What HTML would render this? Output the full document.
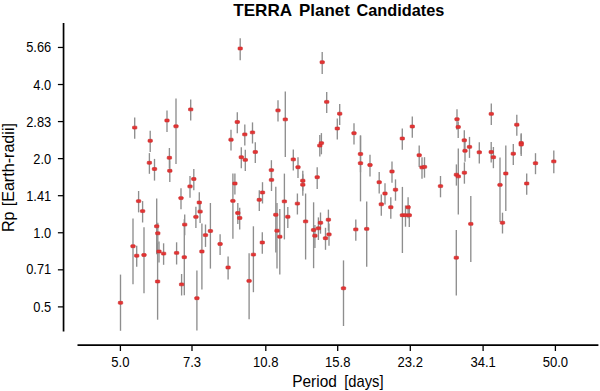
<!DOCTYPE html><html><head><meta charset="utf-8"><style>html,body{margin:0;padding:0;background:#fff;}svg{display:block;}text{font-family:"Liberation Sans", sans-serif;}</style></head><body>
<svg width="600" height="391" viewBox="0 0 600 391">
<rect width="600" height="391" fill="#fff"/>
<text x="233.21" y="15.60" font-size="16.30" font-weight="bold" textLength="58.94" lengthAdjust="spacingAndGlyphs">TERRA</text>
<text x="299.06" y="15.60" font-size="16.30" font-weight="bold" textLength="50.84" lengthAdjust="spacingAndGlyphs">Planet</text>
<text x="356.53" y="15.60" font-size="16.30" font-weight="bold" textLength="87.74" lengthAdjust="spacingAndGlyphs">Candidates</text>
<g stroke="#000" fill="none">
<line x1="63.55" y1="22.9" x2="63.55" y2="331.6" stroke-width="1.7"/>
<line x1="77.5" y1="345.2" x2="598.4" y2="345.2" stroke-width="1.8"/>
<line x1="120.40" y1="345" x2="120.40" y2="351" stroke-width="1.3"/>
<line x1="192.00" y1="345" x2="192.00" y2="351" stroke-width="1.3"/>
<line x1="265.80" y1="345" x2="265.80" y2="351" stroke-width="1.3"/>
<line x1="337.70" y1="345" x2="337.70" y2="351" stroke-width="1.3"/>
<line x1="410.30" y1="345" x2="410.30" y2="351" stroke-width="1.3"/>
<line x1="483.10" y1="345" x2="483.10" y2="351" stroke-width="1.3"/>
<line x1="555.40" y1="345" x2="555.40" y2="351" stroke-width="1.3"/>
<line x1="57.9" y1="47.46" x2="63.5" y2="47.46" stroke-width="1.25"/>
<line x1="57.9" y1="84.52" x2="63.5" y2="84.52" stroke-width="1.25"/>
<line x1="57.9" y1="121.58" x2="63.5" y2="121.58" stroke-width="1.25"/>
<line x1="57.9" y1="158.64" x2="63.5" y2="158.64" stroke-width="1.25"/>
<line x1="57.9" y1="195.70" x2="63.5" y2="195.70" stroke-width="1.25"/>
<line x1="57.9" y1="232.76" x2="63.5" y2="232.76" stroke-width="1.25"/>
<line x1="57.9" y1="269.82" x2="63.5" y2="269.82" stroke-width="1.25"/>
<line x1="57.9" y1="306.88" x2="63.5" y2="306.88" stroke-width="1.25"/>
</g>
<text x="120.40" y="367" font-size="15.2" text-anchor="middle" transform="translate(120.40 0) scale(0.860 1) translate(-120.40 0)">5.0</text>
<text x="192.00" y="367" font-size="15.2" text-anchor="middle" transform="translate(192.00 0) scale(0.860 1) translate(-192.00 0)">7.3</text>
<text x="265.80" y="367" font-size="15.2" text-anchor="middle" transform="translate(265.80 0) scale(0.860 1) translate(-265.80 0)">10.8</text>
<text x="337.70" y="367" font-size="15.2" text-anchor="middle" transform="translate(337.70 0) scale(0.860 1) translate(-337.70 0)">15.8</text>
<text x="410.30" y="367" font-size="15.2" text-anchor="middle" transform="translate(410.30 0) scale(0.860 1) translate(-410.30 0)">23.2</text>
<text x="483.10" y="367" font-size="15.2" text-anchor="middle" transform="translate(483.10 0) scale(0.860 1) translate(-483.10 0)">34.1</text>
<text x="555.40" y="367" font-size="15.2" text-anchor="middle" transform="translate(555.40 0) scale(0.860 1) translate(-555.40 0)">50.0</text>
<text x="51.2" y="52" font-size="14.6" text-anchor="end" transform="translate(51.2 0) scale(0.880 1) translate(-51.2 0)">5.66</text>
<text x="51.2" y="90" font-size="14.6" text-anchor="end" transform="translate(51.2 0) scale(0.880 1) translate(-51.2 0)">4.0</text>
<text x="51.2" y="127" font-size="14.6" text-anchor="end" transform="translate(51.2 0) scale(0.880 1) translate(-51.2 0)">2.83</text>
<text x="51.2" y="164" font-size="14.6" text-anchor="end" transform="translate(51.2 0) scale(0.880 1) translate(-51.2 0)">2.0</text>
<text x="51.2" y="201" font-size="14.6" text-anchor="end" transform="translate(51.2 0) scale(0.880 1) translate(-51.2 0)">1.41</text>
<text x="51.2" y="238" font-size="14.6" text-anchor="end" transform="translate(51.2 0) scale(0.880 1) translate(-51.2 0)">1.0</text>
<text x="51.2" y="274" font-size="14.6" text-anchor="end" transform="translate(51.2 0) scale(0.880 1) translate(-51.2 0)">0.71</text>
<text x="51.2" y="312" font-size="14.6" text-anchor="end" transform="translate(51.2 0) scale(0.880 1) translate(-51.2 0)">0.5</text>
<text x="292.23" y="386.60" font-size="17.00" textLength="44.65" lengthAdjust="spacingAndGlyphs">Period</text>
<text x="344.15" y="386.60" font-size="17.00" textLength="39.40" lengthAdjust="spacingAndGlyphs">[days]</text>
<g transform="translate(14.30 0) rotate(-90)">
<text x="-232.01" y="0" font-size="17.00" textLength="20.49" lengthAdjust="spacingAndGlyphs">Rp</text>
<text x="-206.34" y="0" font-size="17.00" textLength="83.28" lengthAdjust="spacingAndGlyphs">[Earth-radii]</text>
</g>
<g stroke="#8e8e8e" stroke-width="1.35">
<line x1="240.2" y1="38.2" x2="240.2" y2="60.2"/>
<line x1="322.2" y1="51.9" x2="322.2" y2="73.9"/>
<line x1="134.7" y1="117.5" x2="134.7" y2="138.7"/>
<line x1="150.2" y1="130.7" x2="150.2" y2="151.9"/>
<line x1="167.0" y1="110.4" x2="167.0" y2="131.9"/>
<line x1="176.0" y1="98.4" x2="176.0" y2="164.1"/>
<line x1="190.7" y1="99.4" x2="190.7" y2="120.4"/>
<line x1="231.0" y1="129.7" x2="231.0" y2="150.5"/>
<line x1="237.3" y1="112.2" x2="237.3" y2="133.2"/>
<line x1="244.8" y1="124.4" x2="244.8" y2="145.5"/>
<line x1="252.5" y1="122.4" x2="252.5" y2="143.5"/>
<line x1="255.3" y1="142.2" x2="255.3" y2="163.0"/>
<line x1="278.0" y1="100.2" x2="278.0" y2="121.4"/>
<line x1="285.3" y1="91.5" x2="285.3" y2="156.9"/>
<line x1="326.7" y1="91.9" x2="326.7" y2="113.0"/>
<line x1="339.7" y1="103.9" x2="339.7" y2="124.9"/>
<line x1="337.3" y1="118.5" x2="337.3" y2="139.6"/>
<line x1="354.0" y1="123.2" x2="354.0" y2="144.4"/>
<line x1="319.8" y1="135.0" x2="319.8" y2="156.6"/>
<line x1="321.4" y1="133.1" x2="321.4" y2="154.3"/>
<line x1="360.5" y1="135.5" x2="360.5" y2="172.2"/>
<line x1="402.3" y1="128.5" x2="402.3" y2="149.7"/>
<line x1="412.3" y1="116.5" x2="412.3" y2="137.7"/>
<line x1="419.2" y1="145.5" x2="419.2" y2="166.9"/>
<line x1="457.0" y1="109.3" x2="457.0" y2="129.8"/>
<line x1="458.2" y1="121.6" x2="458.2" y2="138.0"/>
<line x1="464.3" y1="130.3" x2="464.3" y2="150.3"/>
<line x1="469.5" y1="136.9" x2="469.5" y2="157.9"/>
<line x1="465.0" y1="140.7" x2="465.0" y2="161.7"/>
<line x1="479.3" y1="142.3" x2="479.3" y2="163.4"/>
<line x1="491.3" y1="103.5" x2="491.3" y2="125.0"/>
<line x1="491.2" y1="142.1" x2="491.2" y2="162.4"/>
<line x1="516.8" y1="114.7" x2="516.8" y2="135.7"/>
<line x1="521.2" y1="133.2" x2="521.2" y2="154.2"/>
<line x1="521.2" y1="134.2" x2="521.2" y2="155.9"/>
<line x1="513.3" y1="143.9" x2="513.3" y2="164.9"/>
<line x1="535.5" y1="153.2" x2="535.5" y2="174.2"/>
<line x1="149.4" y1="153.1" x2="149.4" y2="173.8"/>
<line x1="154.5" y1="158.9" x2="154.5" y2="180.6"/>
<line x1="169.4" y1="148.0" x2="169.4" y2="168.2"/>
<line x1="169.8" y1="160.2" x2="169.8" y2="182.1"/>
<line x1="193.8" y1="169.0" x2="193.8" y2="190.2"/>
<line x1="190.0" y1="176.0" x2="190.0" y2="197.7"/>
<line x1="181.0" y1="188.2" x2="181.0" y2="209.2"/>
<line x1="138.6" y1="191.0" x2="138.6" y2="212.4"/>
<line x1="142.6" y1="201.1" x2="142.6" y2="222.5"/>
<line x1="199.3" y1="192.3" x2="199.3" y2="213.2"/>
<line x1="200.1" y1="201.2" x2="200.1" y2="222.9"/>
<line x1="195.9" y1="206.8" x2="195.9" y2="228.0"/>
<line x1="241.3" y1="147.2" x2="241.3" y2="168.2"/>
<line x1="245.3" y1="149.7" x2="245.3" y2="171.0"/>
<line x1="293.3" y1="149.4" x2="293.3" y2="170.5"/>
<line x1="298.0" y1="157.2" x2="298.0" y2="178.0"/>
<line x1="271.4" y1="160.2" x2="271.4" y2="180.2"/>
<line x1="271.5" y1="169.7" x2="271.5" y2="191.0"/>
<line x1="234.9" y1="173.5" x2="234.9" y2="194.6"/>
<line x1="232.9" y1="173.4" x2="232.9" y2="238.8"/>
<line x1="262.5" y1="182.2" x2="262.5" y2="203.5"/>
<line x1="259.3" y1="190.2" x2="259.3" y2="211.0"/>
<line x1="284.4" y1="173.6" x2="284.4" y2="239.4"/>
<line x1="237.8" y1="203.0" x2="237.8" y2="224.0"/>
<line x1="239.7" y1="207.7" x2="239.7" y2="229.5"/>
<line x1="302.8" y1="170.7" x2="302.8" y2="190.7"/>
<line x1="302.8" y1="174.2" x2="302.8" y2="195.7"/>
<line x1="317.2" y1="167.2" x2="317.2" y2="188.9"/>
<line x1="297.4" y1="193.5" x2="297.4" y2="214.5"/>
<line x1="360.5" y1="135.5" x2="360.5" y2="201.4"/>
<line x1="370.0" y1="154.7" x2="370.0" y2="176.4"/>
<line x1="379.2" y1="171.9" x2="379.2" y2="193.5"/>
<line x1="385.0" y1="183.2" x2="385.0" y2="204.4"/>
<line x1="381.3" y1="194.4" x2="381.3" y2="215.7"/>
<line x1="392.0" y1="161.5" x2="392.0" y2="182.7"/>
<line x1="395.5" y1="179.4" x2="395.5" y2="200.7"/>
<line x1="390.8" y1="197.2" x2="390.8" y2="218.8"/>
<line x1="422.0" y1="157.2" x2="422.0" y2="178.7"/>
<line x1="424.5" y1="157.2" x2="424.5" y2="177.7"/>
<line x1="440.5" y1="176.0" x2="440.5" y2="197.3"/>
<line x1="456.4" y1="164.4" x2="456.4" y2="185.6"/>
<line x1="458.3" y1="148.6" x2="458.3" y2="214.4"/>
<line x1="464.4" y1="162.4" x2="464.4" y2="183.7"/>
<line x1="408.1" y1="197.2" x2="408.1" y2="218.2"/>
<line x1="493.4" y1="147.0" x2="493.4" y2="168.2"/>
<line x1="500.0" y1="157.5" x2="500.0" y2="221.9"/>
<line x1="505.8" y1="145.5" x2="505.8" y2="211.0"/>
<line x1="526.7" y1="173.5" x2="526.7" y2="194.7"/>
<line x1="553.8" y1="150.4" x2="553.8" y2="173.2"/>
<line x1="402.4" y1="186.9" x2="402.4" y2="253.0"/>
<line x1="405.5" y1="205.4" x2="405.5" y2="226.7"/>
<line x1="409.3" y1="205.2" x2="409.3" y2="226.9"/>
<line x1="470.8" y1="196.0" x2="470.8" y2="261.9"/>
<line x1="456.3" y1="229.9" x2="456.3" y2="295.5"/>
<line x1="502.5" y1="212.7" x2="502.5" y2="233.5"/>
<line x1="133.0" y1="218.4" x2="133.0" y2="284.2"/>
<line x1="136.7" y1="245.7" x2="136.7" y2="266.7"/>
<line x1="144.0" y1="227.2" x2="144.0" y2="293.2"/>
<line x1="156.7" y1="198.4" x2="156.7" y2="254.2"/>
<line x1="157.8" y1="222.8" x2="157.8" y2="243.7"/>
<line x1="159.0" y1="241.6" x2="159.0" y2="262.4"/>
<line x1="163.6" y1="243.3" x2="163.6" y2="264.8"/>
<line x1="176.6" y1="242.3" x2="176.6" y2="264.5"/>
<line x1="184.7" y1="214.5" x2="184.7" y2="235.2"/>
<line x1="184.3" y1="219.2" x2="184.3" y2="295.2"/>
<line x1="120.5" y1="274.6" x2="120.5" y2="330.8"/>
<line x1="157.6" y1="243.2" x2="157.6" y2="319.7"/>
<line x1="181.6" y1="274.0" x2="181.6" y2="295.5"/>
<line x1="196.9" y1="270.6" x2="196.9" y2="330.5"/>
<line x1="205.5" y1="224.5" x2="205.5" y2="246.9"/>
<line x1="210.4" y1="203.0" x2="210.4" y2="268.6"/>
<line x1="201.9" y1="223.4" x2="201.9" y2="289.6"/>
<line x1="220.1" y1="234.2" x2="220.1" y2="254.9"/>
<line x1="228.1" y1="256.5" x2="228.1" y2="279.6"/>
<line x1="249.1" y1="253.3" x2="249.1" y2="319.2"/>
<line x1="253.4" y1="226.3" x2="253.4" y2="292.2"/>
<line x1="262.3" y1="232.3" x2="262.3" y2="253.8"/>
<line x1="275.8" y1="186.7" x2="275.8" y2="252.6"/>
<line x1="287.8" y1="207.1" x2="287.8" y2="228.0"/>
<line x1="277.0" y1="203.0" x2="277.0" y2="268.6"/>
<line x1="279.8" y1="209.0" x2="279.8" y2="274.6"/>
<line x1="305.6" y1="193.5" x2="305.6" y2="259.5"/>
<line x1="313.6" y1="202.3" x2="313.6" y2="268.2"/>
<line x1="314.9" y1="224.9" x2="314.9" y2="248.0"/>
<line x1="318.4" y1="217.4" x2="318.4" y2="240.0"/>
<line x1="320.5" y1="212.5" x2="320.5" y2="233.7"/>
<line x1="328.4" y1="209.6" x2="328.4" y2="230.7"/>
<line x1="329.0" y1="223.4" x2="329.0" y2="245.7"/>
<line x1="325.5" y1="227.8" x2="325.5" y2="249.8"/>
<line x1="355.8" y1="219.4" x2="355.8" y2="240.8"/>
<line x1="366.7" y1="201.5" x2="366.7" y2="266.8"/>
<line x1="343.5" y1="260.4" x2="343.5" y2="326.0"/>
</g>
<g fill="#e43434" stroke="#c92b2b" stroke-width="0.6">
<rect x="238.00" y="47.05" width="4.4" height="2.9" rx="0.7"/>
<rect x="320.00" y="60.75" width="4.4" height="2.9" rx="0.7"/>
<rect x="132.50" y="126.15" width="4.4" height="2.9" rx="0.7"/>
<rect x="148.00" y="139.35" width="4.4" height="2.9" rx="0.7"/>
<rect x="164.80" y="119.05" width="4.4" height="2.9" rx="0.7"/>
<rect x="173.80" y="124.85" width="4.4" height="2.9" rx="0.7"/>
<rect x="188.50" y="107.95" width="4.4" height="2.9" rx="0.7"/>
<rect x="228.80" y="138.25" width="4.4" height="2.9" rx="0.7"/>
<rect x="235.10" y="120.55" width="4.4" height="2.9" rx="0.7"/>
<rect x="242.60" y="132.95" width="4.4" height="2.9" rx="0.7"/>
<rect x="250.30" y="130.95" width="4.4" height="2.9" rx="0.7"/>
<rect x="253.10" y="150.55" width="4.4" height="2.9" rx="0.7"/>
<rect x="275.80" y="108.95" width="4.4" height="2.9" rx="0.7"/>
<rect x="283.10" y="117.95" width="4.4" height="2.9" rx="0.7"/>
<rect x="324.50" y="100.45" width="4.4" height="2.9" rx="0.7"/>
<rect x="337.50" y="112.25" width="4.4" height="2.9" rx="0.7"/>
<rect x="335.10" y="127.05" width="4.4" height="2.9" rx="0.7"/>
<rect x="351.80" y="131.75" width="4.4" height="2.9" rx="0.7"/>
<rect x="317.60" y="144.15" width="4.4" height="2.9" rx="0.7"/>
<rect x="319.20" y="141.65" width="4.4" height="2.9" rx="0.7"/>
<rect x="358.30" y="152.55" width="4.4" height="2.9" rx="0.7"/>
<rect x="400.10" y="137.05" width="4.4" height="2.9" rx="0.7"/>
<rect x="410.10" y="125.05" width="4.4" height="2.9" rx="0.7"/>
<rect x="417.00" y="153.75" width="4.4" height="2.9" rx="0.7"/>
<rect x="454.80" y="117.75" width="4.4" height="2.9" rx="0.7"/>
<rect x="456.00" y="125.55" width="4.4" height="2.9" rx="0.7"/>
<rect x="462.10" y="138.85" width="4.4" height="2.9" rx="0.7"/>
<rect x="467.30" y="145.45" width="4.4" height="2.9" rx="0.7"/>
<rect x="462.80" y="149.35" width="4.4" height="2.9" rx="0.7"/>
<rect x="477.10" y="150.85" width="4.4" height="2.9" rx="0.7"/>
<rect x="489.10" y="112.45" width="4.4" height="2.9" rx="0.7"/>
<rect x="489.00" y="150.55" width="4.4" height="2.9" rx="0.7"/>
<rect x="514.60" y="123.25" width="4.4" height="2.9" rx="0.7"/>
<rect x="519.00" y="141.55" width="4.4" height="2.9" rx="0.7"/>
<rect x="519.00" y="143.15" width="4.4" height="2.9" rx="0.7"/>
<rect x="511.10" y="152.25" width="4.4" height="2.9" rx="0.7"/>
<rect x="533.30" y="161.75" width="4.4" height="2.9" rx="0.7"/>
<rect x="147.20" y="161.35" width="4.4" height="2.9" rx="0.7"/>
<rect x="152.30" y="167.55" width="4.4" height="2.9" rx="0.7"/>
<rect x="167.20" y="156.35" width="4.4" height="2.9" rx="0.7"/>
<rect x="167.60" y="169.35" width="4.4" height="2.9" rx="0.7"/>
<rect x="191.60" y="177.55" width="4.4" height="2.9" rx="0.7"/>
<rect x="187.80" y="184.95" width="4.4" height="2.9" rx="0.7"/>
<rect x="178.80" y="196.65" width="4.4" height="2.9" rx="0.7"/>
<rect x="136.40" y="199.65" width="4.4" height="2.9" rx="0.7"/>
<rect x="140.40" y="209.65" width="4.4" height="2.9" rx="0.7"/>
<rect x="197.10" y="201.05" width="4.4" height="2.9" rx="0.7"/>
<rect x="197.90" y="210.15" width="4.4" height="2.9" rx="0.7"/>
<rect x="193.70" y="215.45" width="4.4" height="2.9" rx="0.7"/>
<rect x="239.10" y="155.75" width="4.4" height="2.9" rx="0.7"/>
<rect x="243.10" y="158.45" width="4.4" height="2.9" rx="0.7"/>
<rect x="291.10" y="157.95" width="4.4" height="2.9" rx="0.7"/>
<rect x="295.80" y="165.75" width="4.4" height="2.9" rx="0.7"/>
<rect x="269.20" y="168.65" width="4.4" height="2.9" rx="0.7"/>
<rect x="269.30" y="178.45" width="4.4" height="2.9" rx="0.7"/>
<rect x="232.70" y="182.05" width="4.4" height="2.9" rx="0.7"/>
<rect x="230.70" y="199.45" width="4.4" height="2.9" rx="0.7"/>
<rect x="260.30" y="191.05" width="4.4" height="2.9" rx="0.7"/>
<rect x="257.10" y="198.35" width="4.4" height="2.9" rx="0.7"/>
<rect x="282.20" y="199.95" width="4.4" height="2.9" rx="0.7"/>
<rect x="235.60" y="211.55" width="4.4" height="2.9" rx="0.7"/>
<rect x="237.50" y="216.55" width="4.4" height="2.9" rx="0.7"/>
<rect x="300.60" y="179.25" width="4.4" height="2.9" rx="0.7"/>
<rect x="300.60" y="183.25" width="4.4" height="2.9" rx="0.7"/>
<rect x="315.00" y="175.75" width="4.4" height="2.9" rx="0.7"/>
<rect x="295.20" y="202.15" width="4.4" height="2.9" rx="0.7"/>
<rect x="358.30" y="161.75" width="4.4" height="2.9" rx="0.7"/>
<rect x="367.80" y="163.55" width="4.4" height="2.9" rx="0.7"/>
<rect x="377.00" y="180.75" width="4.4" height="2.9" rx="0.7"/>
<rect x="382.80" y="192.05" width="4.4" height="2.9" rx="0.7"/>
<rect x="379.10" y="202.85" width="4.4" height="2.9" rx="0.7"/>
<rect x="389.80" y="170.05" width="4.4" height="2.9" rx="0.7"/>
<rect x="393.30" y="188.25" width="4.4" height="2.9" rx="0.7"/>
<rect x="388.60" y="205.75" width="4.4" height="2.9" rx="0.7"/>
<rect x="419.80" y="165.95" width="4.4" height="2.9" rx="0.7"/>
<rect x="422.30" y="165.45" width="4.4" height="2.9" rx="0.7"/>
<rect x="438.30" y="184.65" width="4.4" height="2.9" rx="0.7"/>
<rect x="454.20" y="173.25" width="4.4" height="2.9" rx="0.7"/>
<rect x="456.10" y="174.95" width="4.4" height="2.9" rx="0.7"/>
<rect x="462.20" y="171.25" width="4.4" height="2.9" rx="0.7"/>
<rect x="405.90" y="205.85" width="4.4" height="2.9" rx="0.7"/>
<rect x="491.20" y="155.75" width="4.4" height="2.9" rx="0.7"/>
<rect x="497.80" y="183.45" width="4.4" height="2.9" rx="0.7"/>
<rect x="503.60" y="172.05" width="4.4" height="2.9" rx="0.7"/>
<rect x="524.50" y="182.05" width="4.4" height="2.9" rx="0.7"/>
<rect x="551.60" y="159.95" width="4.4" height="2.9" rx="0.7"/>
<rect x="400.20" y="213.75" width="4.4" height="2.9" rx="0.7"/>
<rect x="403.30" y="213.75" width="4.4" height="2.9" rx="0.7"/>
<rect x="407.10" y="213.75" width="4.4" height="2.9" rx="0.7"/>
<rect x="468.60" y="222.45" width="4.4" height="2.9" rx="0.7"/>
<rect x="454.10" y="256.25" width="4.4" height="2.9" rx="0.7"/>
<rect x="500.30" y="221.25" width="4.4" height="2.9" rx="0.7"/>
<rect x="130.80" y="244.75" width="4.4" height="2.9" rx="0.7"/>
<rect x="134.50" y="254.25" width="4.4" height="2.9" rx="0.7"/>
<rect x="141.80" y="253.55" width="4.4" height="2.9" rx="0.7"/>
<rect x="154.50" y="224.85" width="4.4" height="2.9" rx="0.7"/>
<rect x="155.60" y="231.85" width="4.4" height="2.9" rx="0.7"/>
<rect x="156.80" y="250.05" width="4.4" height="2.9" rx="0.7"/>
<rect x="161.40" y="252.15" width="4.4" height="2.9" rx="0.7"/>
<rect x="174.40" y="251.45" width="4.4" height="2.9" rx="0.7"/>
<rect x="182.50" y="223.15" width="4.4" height="2.9" rx="0.7"/>
<rect x="182.10" y="255.75" width="4.4" height="2.9" rx="0.7"/>
<rect x="118.30" y="301.35" width="4.4" height="2.9" rx="0.7"/>
<rect x="155.40" y="280.05" width="4.4" height="2.9" rx="0.7"/>
<rect x="179.40" y="282.95" width="4.4" height="2.9" rx="0.7"/>
<rect x="194.70" y="296.75" width="4.4" height="2.9" rx="0.7"/>
<rect x="203.30" y="233.65" width="4.4" height="2.9" rx="0.7"/>
<rect x="208.20" y="229.55" width="4.4" height="2.9" rx="0.7"/>
<rect x="199.70" y="250.05" width="4.4" height="2.9" rx="0.7"/>
<rect x="217.90" y="242.55" width="4.4" height="2.9" rx="0.7"/>
<rect x="225.90" y="266.05" width="4.4" height="2.9" rx="0.7"/>
<rect x="246.90" y="279.45" width="4.4" height="2.9" rx="0.7"/>
<rect x="251.20" y="253.15" width="4.4" height="2.9" rx="0.7"/>
<rect x="260.10" y="241.05" width="4.4" height="2.9" rx="0.7"/>
<rect x="273.60" y="213.35" width="4.4" height="2.9" rx="0.7"/>
<rect x="285.60" y="215.35" width="4.4" height="2.9" rx="0.7"/>
<rect x="274.80" y="229.25" width="4.4" height="2.9" rx="0.7"/>
<rect x="277.60" y="235.25" width="4.4" height="2.9" rx="0.7"/>
<rect x="303.40" y="219.95" width="4.4" height="2.9" rx="0.7"/>
<rect x="311.40" y="228.55" width="4.4" height="2.9" rx="0.7"/>
<rect x="312.70" y="234.25" width="4.4" height="2.9" rx="0.7"/>
<rect x="316.20" y="226.85" width="4.4" height="2.9" rx="0.7"/>
<rect x="318.30" y="221.35" width="4.4" height="2.9" rx="0.7"/>
<rect x="326.20" y="218.25" width="4.4" height="2.9" rx="0.7"/>
<rect x="326.80" y="232.95" width="4.4" height="2.9" rx="0.7"/>
<rect x="323.30" y="236.75" width="4.4" height="2.9" rx="0.7"/>
<rect x="353.60" y="227.95" width="4.4" height="2.9" rx="0.7"/>
<rect x="364.50" y="227.45" width="4.4" height="2.9" rx="0.7"/>
<rect x="341.30" y="286.85" width="4.4" height="2.9" rx="0.7"/>
</g>
</svg></body></html>
